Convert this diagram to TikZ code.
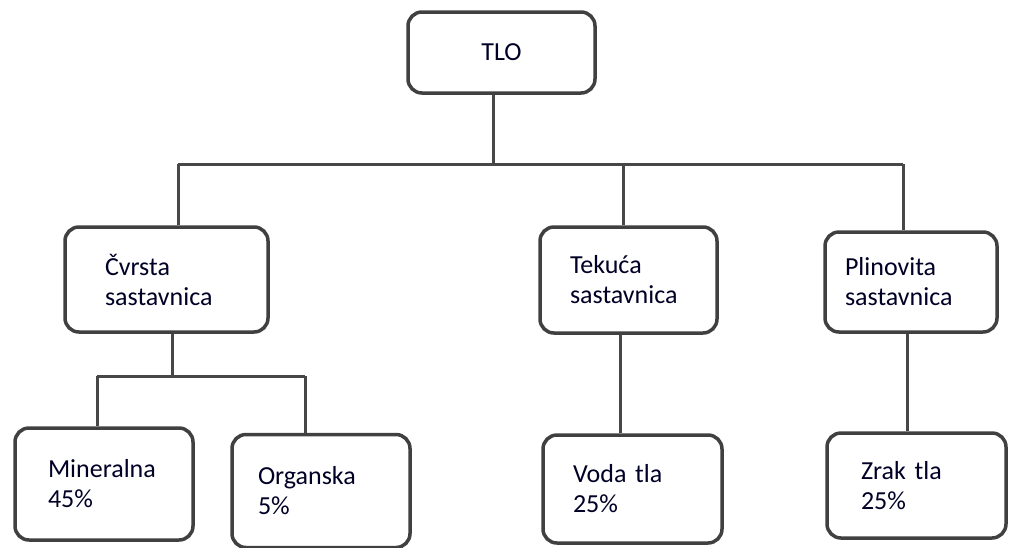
\documentclass[tikz,border=0pt]{standalone}
\usepackage{fontspec}
\setmainfont{Carlito}
\begin{document}
\begin{tikzpicture}[x=1pt,y=-1pt,
  box/.style={draw=black!75, line width=3.5pt, rounded corners=14pt, fill=white,
    font=\fontsize{26}{30}\selectfont, text=black!85!blue, align=left, inner ysep=0pt},
  conn/.style={draw=black!72, line width=3pt}]
\useasboundingbox (0,0) rectangle (1009,547);
% boxes
\node[box, align=center, minimum width=187pt, minimum height=81pt, inner xsep=0pt] (tlo) at (501.5,52.5) {TLO};
\node[box, minimum width=203pt, minimum height=105pt, text width=123pt, inner xsep=40pt] (cvrsta) at (166.5,279.5) {Čvrsta\\sastavnica};
\node[box, minimum width=177pt, minimum height=106pt, text width=117pt, inner xsep=30pt] (tekuca) at (628.5,280) {Tekuća\\sastavnica};
\node[box, minimum width=172pt, minimum height=100pt, text width=132pt, inner xsep=20pt] (plin) at (911,282) {Plinovita\\sastavnica};
\node[box, minimum width=178pt, minimum height=112pt, text width=112pt, inner xsep=33pt] (mineral) at (104,484) {Mineralna\\45\%};
\node[box, minimum width=178pt, minimum height=113pt, text width=126pt, inner xsep=26pt] (organ) at (321,491) {Organska\\5\%};
\node[box, minimum width=179pt, minimum height=108pt, text width=119pt, inner xsep=30pt] (voda) at (632.5,489) {Voda tla\\25\%};
\node[box, minimum width=179pt, minimum height=105pt, text width=111pt, inner xsep=34pt] (zrak) at (916.5,485.5) {Zrak tla\\25\%};
% junction coordinates
\coordinate (j0) at (493,164);
\coordinate (bl) at (178,164);
\coordinate (br) at (903,164);
\coordinate (j2) at (623,164);
\coordinate (k0) at (172,376);
\coordinate (kl) at (97,376);
\coordinate (kr) at (305,376);
\coordinate (v1) at (620,400);
\coordinate (v2) at (907,400);
% connectors
\draw[conn] (j0 |- tlo.south) -- (j0);
\draw[conn] (bl) -- (br);
\draw[conn] (bl) -- (bl |- cvrsta.north);
\draw[conn] (j2) -- (j2 |- tekuca.north);
\draw[conn] (br) -- (br |- plin.north);
\draw[conn] (k0 |- cvrsta.south) -- (k0);
\draw[conn] (kl) -- (kr);
\draw[conn] (kl) -- (kl |- mineral.north);
\draw[conn] (kr) -- (kr |- organ.north);
\draw[conn] (v1 |- tekuca.south) -- (v1 |- voda.north);
\draw[conn] (v2 |- plin.south) -- (v2 |- zrak.north);
\end{tikzpicture}
\end{document}
